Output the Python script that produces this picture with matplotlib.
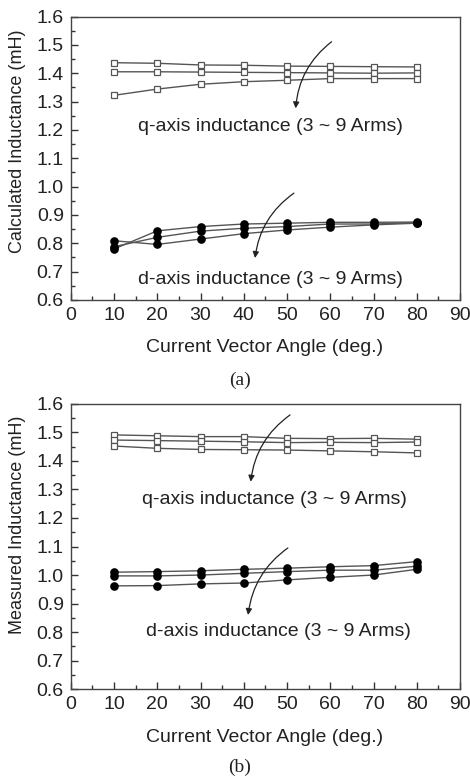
import matplotlib
matplotlib.use("Agg")
import matplotlib.pyplot as plt
from matplotlib.ticker import MultipleLocator, FormatStrFormatter

plt.rcParams['font.family'] = ['Liberation Sans', 'DejaVu Sans']

angles = [10, 20, 30, 40, 50, 60, 70, 80]

# (a) calculated
calc_q = [
    [1.437, 1.435, 1.429, 1.428, 1.425, 1.424, 1.423, 1.422],
    [1.405, 1.405, 1.404, 1.403, 1.402, 1.401, 1.400, 1.401],
    [1.322, 1.344, 1.361, 1.370, 1.375, 1.381, 1.381, 1.381],
]
calc_d = [
    [0.780, 0.844, 0.859, 0.868, 0.871, 0.874, 0.874, 0.875],
    [0.788, 0.821, 0.843, 0.853, 0.859, 0.868, 0.868, 0.873],
    [0.809, 0.796, 0.815, 0.834, 0.847, 0.857, 0.865, 0.871],
]
# (b) measured
meas_q = [
    [1.491, 1.488, 1.485, 1.485, 1.479, 1.478, 1.479, 1.476],
    [1.473, 1.471, 1.469, 1.467, 1.464, 1.465, 1.464, 1.466],
    [1.452, 1.444, 1.440, 1.439, 1.438, 1.435, 1.432, 1.428],
]
meas_d = [
    [1.010, 1.012, 1.015, 1.020, 1.024, 1.029, 1.033, 1.047],
    [0.997, 0.997, 1.000, 1.006, 1.012, 1.017, 1.017, 1.031],
    [0.962, 0.963, 0.969, 0.972, 0.983, 0.992, 1.000, 1.020],
]

q_text = "q-axis inductance (3 ~ 9 Arms)"
d_text = "d-axis inductance (3 ~ 9 Arms)"
x_label = "Current Vector Angle (deg.)"

W, H = 470, 778
fig = plt.figure(figsize=(W / 100, H / 100), dpi=100)

def fx(px):
    return px / W

def fy(py):
    return 1 - py / H

FS = 14
line_c = '#555555'

def style_axes(ax):
    ax.set_xlim(0, 90)
    ax.set_ylim(0.6, 1.6)
    ax.xaxis.set_major_locator(MultipleLocator(10))
    ax.xaxis.set_minor_locator(MultipleLocator(5))
    ax.yaxis.set_major_locator(MultipleLocator(0.1))
    ax.yaxis.set_minor_locator(MultipleLocator(0.05))
    ax.yaxis.set_major_formatter(FormatStrFormatter('%.1f'))
    ax.tick_params(which='both', direction='in', top=False, right=False,
                   labelsize=FS, colors='#333333', labelcolor='#222222')
    ax.tick_params(which='major', length=5, width=1, pad=5)
    ax.tick_params(which='minor', length=3, width=1)
    for s in ax.spines.values():
        s.set_color('#444444')
        s.set_linewidth(1.0)

def draw(ax, qs, ds):
    for ser in qs:
        ax.plot(angles, ser, color=line_c, lw=1.0, marker='s', ms=4.6,
                mfc='white', mec='#555555', mew=0.9)
    for ser in ds:
        ax.plot(angles, ser, color=line_c, lw=1.0, marker='o', ms=5.2,
                mfc='black', mec='black')

def arrow(ax, start, end, rad=0.22):
    ax.annotate('', xy=end, xytext=start,
                arrowprops=dict(arrowstyle='-|>', color='#222222', lw=0.9,
                                mutation_scale=9,
                                connectionstyle=f'arc3,rad={rad}',
                                shrinkA=0, shrinkB=0))

# top axes
left, right = 70.8, 460
axA = fig.add_axes([fx(left), fy(300), fx(right) - fx(left), fy(16.5) - fy(300)])
style_axes(axA)
draw(axA, calc_q, calc_d)
arrow(axA, (60.3, 1.511), (52.0, 1.276))
axA.text(46.2, 1.211, q_text, ha='center', va='center', fontsize=FS, color='#222222')
arrow(axA, (51.6, 0.977), (42.6, 0.748))
axA.text(46.2, 0.671, d_text, ha='center', va='center', fontsize=FS, color='#222222')

fig.text(fx(265), fy(348), x_label, ha='center', va='center', fontsize=FS, color='#222222')
fig.text(fx(18), fy(141), "Calculated Inductance (mH)", rotation=90,
         ha='center', va='center', fontsize=13, color='#222222')
fig.text(fx(240), fy(380), "(a)", ha='center', va='center', fontsize=14,
         family=['Liberation Serif', 'DejaVu Serif'], color='#222222')

# bottom axes
axB = fig.add_axes([fx(left), fy(689.2), fx(right) - fx(left), fy(403.8) - fy(689.2)])
style_axes(axB)
draw(axB, meas_q, meas_d)
arrow(axB, (50.7, 1.561), (41.6, 1.327))
axB.text(47.0, 1.266, q_text, ha='center', va='center', fontsize=FS, color='#222222')
arrow(axB, (50.2, 1.095), (41.0, 0.860))
axB.text(47.9, 0.801, d_text, ha='center', va='center', fontsize=FS, color='#222222')

fig.text(fx(265), fy(737), x_label, ha='center', va='center', fontsize=FS, color='#222222')
fig.text(fx(18), fy(525), "Measured Inductance (mH)", rotation=90,
         ha='center', va='center', fontsize=13, color='#222222')
fig.text(fx(240), fy(767), "(b)", ha='center', va='center', fontsize=14,
         family=['Liberation Serif', 'DejaVu Serif'], color='#222222')

fig.savefig("out.png", dpi=100)
